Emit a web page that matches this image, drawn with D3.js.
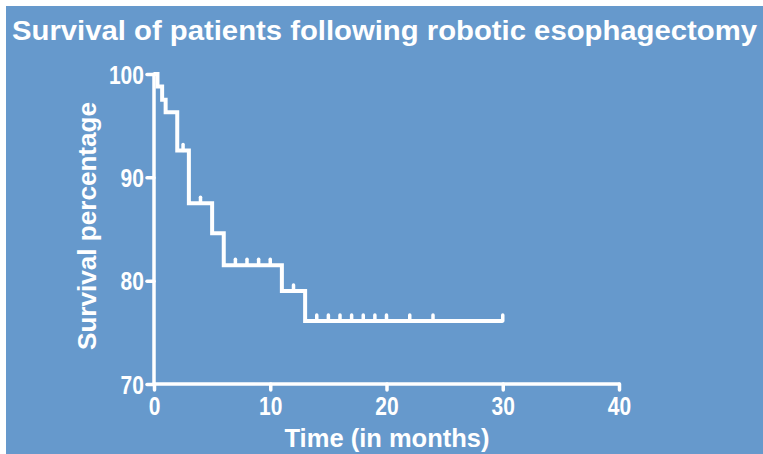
<!DOCTYPE html>
<html>
<head>
<meta charset="utf-8">
<script src="https://cdn.jsdelivr.net/npm/d3@7"></script>
<style>
  html, body { margin: 0; padding: 0; background: #ffffff; }
  svg { display: block; }
  text { font-family: "Liberation Sans", Arial, sans-serif; font-weight: bold; fill: #ffffff; }
</style>
</head>
<body>
<script>
// ---- data ----
const title = "Survival of patients following robotic esophagectomy";
const xLabel = "Time (in months)";
const yLabel = "Survival percentage";
const xTicks = [0, 10, 20, 30, 40];
const yTicks = [70, 80, 90, 100];
// Kaplan-Meier step curve: time at which survival drops, and survival after the drop
const stepTimes = [0, 0.3, 0.7, 1.0, 2.0, 3.0, 5.0, 6.0, 11.0, 13.0];
const stepSurvival = [100, 98.8, 97.5, 96.3, 92.6, 87.5, 84.6, 81.5, 79.0, 76.1];
const lastTime = 30;
// censored observations (times)
const censorTimes = [2.5, 4, 7, 8, 9, 10, 12, 14, 15, 16, 17, 18, 19, 20, 22, 24, 30];

const W = 763, H = 454;
const bg = "#6699cc";

const svg = d3.select("body").append("svg").attr("width", W).attr("height", H);
svg.append("rect").attr("x", 6).attr("y", 6).attr("width", W - 6).attr("height", H - 6).attr("fill", bg);

const x = d3.scaleLinear().domain([0, 40]).range([154, 619]);
const y = d3.scaleLinear().domain([70, 100]).range([384, 74]);

// title
svg.append("text").attr("x", 12).attr("y", 40)
  .attr("font-size", 28)
  .attr("textLength", 745).attr("lengthAdjust", "spacingAndGlyphs")
  .text(title);

// axes
const xAxis = d3.axisBottom(x).tickValues(xTicks).tickSize(6).tickPadding(5);
const yAxis = d3.axisLeft(y).tickValues(yTicks).tickSize(7).tickPadding(3);

const gx = svg.append("g").attr("transform", `translate(0,${y(70)})`).call(xAxis);
const gy = svg.append("g").attr("transform", `translate(${x(0)},0)`).call(yAxis);

[gx, gy].forEach(g => {
  g.select(".domain").attr("stroke", "#fff").attr("stroke-width", 3.5).attr("stroke-linecap", "round");
  g.selectAll(".tick line").attr("stroke", "#fff").attr("stroke-width", 3.5).attr("stroke-linecap", "round");
  g.selectAll(".tick text").attr("fill", "#fff").attr("font-size", 25)
    .style("font-family", '"Liberation Sans", Arial, sans-serif').style("font-weight", "bold");
});
gx.select(".domain").attr("d", `M${x(0)},0H${x(40)}`);
gy.select(".domain").attr("d", `M0,${y(70)}V${y(100)}`);
gx.selectAll(".tick text").attr("transform", "scale(0.84,1)").attr("y", 13).attr("dy", "0.71em");
gy.selectAll(".tick text").attr("transform", "scale(0.84,1)").attr("x", -12).attr("dy", "0.36em");

// axis labels
svg.append("text").attr("x", 387).attr("y", 447).attr("text-anchor", "middle")
  .attr("font-size", 25).attr("textLength", 205).attr("lengthAdjust", "spacingAndGlyphs")
  .text(xLabel);
svg.append("text").attr("transform", `translate(96,${226}) rotate(-90)`).attr("text-anchor", "middle")
  .attr("font-size", 26).attr("textLength", 248).attr("lengthAdjust", "spacingAndGlyphs")
  .text(yLabel);

// survival step line
const pts = stepTimes.map((t, i) => [t, stepSurvival[i]]);
pts.push([lastTime, stepSurvival[stepSurvival.length - 1]]);
const line = d3.line().x(d => x(d[0])).y(d => y(d[1])).curve(d3.curveStepAfter);
svg.append("path").datum(pts).attr("d", line)
  .attr("fill", "none").attr("stroke", "#fff").attr("stroke-width", 4)
  .attr("stroke-linejoin", "miter");

// censor marks
function survAt(t) {
  let s = stepSurvival[0];
  stepTimes.forEach((st, i) => { if (st <= t) s = stepSurvival[i]; });
  return s;
}
svg.append("g").selectAll("line").data(censorTimes).join("line")
  .attr("x1", d => x(d)).attr("x2", d => x(d))
  .attr("y1", d => y(survAt(d))).attr("y2", d => y(survAt(d)) - 6)
  .attr("stroke", "#fff").attr("stroke-width", 3.5).attr("stroke-linecap", "round");
</script>
</body>
</html>
